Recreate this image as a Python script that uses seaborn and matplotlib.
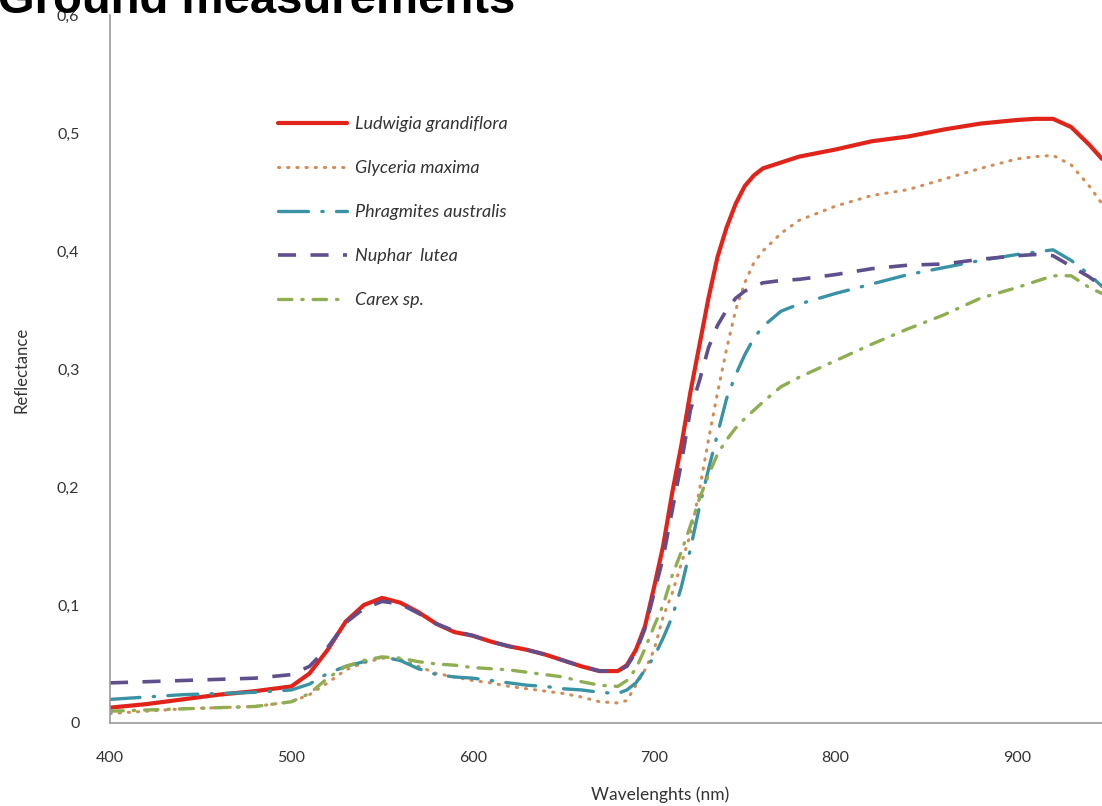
import matplotlib
matplotlib.use("Agg")
import matplotlib.pyplot as plt
import seaborn as sns
import pandas as pd
from matplotlib.ticker import FuncFormatter, MultipleLocator

wavelength = [400, 420, 440, 460, 480, 500, 510, 520, 530, 540, 550, 560, 570, 580, 590,
              600, 610, 620, 630, 640, 650, 660, 670, 680, 685, 690, 695, 700, 705, 710,
              715, 720, 725, 730, 735, 740, 745, 750, 755, 760, 770, 780, 800, 820, 840,
              860, 880, 900, 910, 920, 930, 940, 947]

ludwigia = [.013, .016, .020, .024, .027, .031, .042, .062, .086, .100, .106, .102, .094, .084, .077,
            .074, .069, .065, .062, .058, .053, .048, .044, .044, .049, .062, .082, .115, .150, .195,
            .235, .280, .320, .360, .395, .420, .440, .455, .464, .470, .475, .480, .486, .493, .497,
            .503, .508, .511, .512, .512, .505, .490, .478]

glyceria = [.008, .010, .012, .013, .014, .018, .024, .034, .045, .051, .055, .054, .048, .042, .039,
            .036, .034, .031, .029, .027, .025, .022, .018, .017, .019, .032, .045, .062, .090, .110,
            .135, .160, .197, .240, .280, .317, .350, .373, .390, .400, .415, .426, .438, .447, .452,
            .461, .470, .478, .480, .481, .473, .455, .440]

phragmites = [.020, .022, .024, .025, .026, .028, .033, .042, .048, .052, .056, .053, .046, .041, .039,
              .038, .036, .034, .032, .031, .029, .028, .026, .025, .028, .034, .045, .056, .072, .090,
              .115, .147, .183, .215, .245, .275, .295, .312, .326, .336, .349, .355, .364, .372, .380,
              .386, .392, .397, .399, .401, .392, .380, .370]

nuphar = [.034, .035, .036, .037, .038, .041, .048, .064, .085, .097, .103, .101, .093, .084, .078,
          .074, .069, .065, .062, .058, .053, .048, .044, .044, .048, .060, .080, .110, .140, .180,
          .220, .265, .290, .318, .337, .350, .360, .366, .370, .373, .375, .376, .380, .385, .388,
          .389, .393, .396, .397, .396, .387, .378, .370]

carex = [.010, .011, .012, .013, .014, .018, .025, .038, .048, .053, .056, .055, .052, .050, .049,
         .047, .046, .045, .043, .041, .039, .035, .032, .031, .036, .046, .063, .082, .100, .125,
         .145, .167, .190, .210, .228, .240, .250, .258, .265, .272, .285, .293, .307, .321, .334,
         .346, .360, .369, .374, .379, .379, .369, .364]

species = ["Ludwigia grandiflora", "Glyceria maxima", "Phragmites australis",
           "Nuphar  lutea", "Carex sp."]
series = [ludwigia, glyceria, phragmites, nuphar, carex]
colors = ["#e2231a", "#d38c56", "#3a93a5", "#5f4f8c", "#8fae52"]
styles = ["-", (0, (0.4, 2.6)), (0, (9, 4, 0.4, 4)), (0, (5, 4)), (0, (4, 3, 0.4, 3))]
widths = [3.0, 2.2, 2.4, 2.6, 2.4]
caps = ["round", "round", "round", "butt", "round"]

sns.set_style("white")
plt.rcParams["font.family"] = ["Lato", "DejaVu Sans"]

fig = plt.figure(figsize=(11.02, 8.06), dpi=100)
ax = fig.add_axes([110 / 1102, 83 / 806, 1 - 110 / 1102, (723 - 15) / 806])

for name, vals, c, ls, lw, cap in zip(species, series, colors, styles, widths, caps):
    df = pd.DataFrame({"wl": wavelength, "r": vals})
    sns.lineplot(data=df, x="wl", y="r", color=c, linestyle=ls, linewidth=lw,
                 ax=ax, label=name, dash_capstyle=cap, solid_capstyle="round")

ax.set_xlim(400, 947)
ax.set_ylim(0, 0.6)
ax.xaxis.set_major_locator(MultipleLocator(100))
ax.yaxis.set_major_locator(MultipleLocator(0.1))
ax.yaxis.set_major_formatter(FuncFormatter(lambda v, p: "0" if abs(v) < 1e-9 else f"{v:.1f}".replace(".", ",")))
ax.tick_params(axis="both", length=0, labelsize=11.5, colors="#333333")
ax.tick_params(axis="x", pad=20)
ax.tick_params(axis="y", pad=22)
for s in ["top", "right"]:
    ax.spines[s].set_visible(False)
for s in ["left", "bottom"]:
    ax.spines[s].set_color("#9a9a9a")
    ax.spines[s].set_linewidth(1.2)

ax.set_xlabel("")
ax.set_ylabel("")
fig.text(660 / 1102, 1 - 795 / 806, "Wavelenghts (nm)", ha="center", va="center",
         fontsize=12.5, color="#333333")
fig.text(22 / 1102, 1 - 370 / 806, "Reflectance", ha="center", va="center",
         rotation=90, fontsize=12, color="#333333")

fig.text(-0.002, 1 - 13 / 806, "Ground measurements", ha="left", va="baseline",
         fontsize=34, fontweight="bold", color="black", family=["Liberation Sans", "DejaVu Sans"])

leg = ax.legend(loc="upper left", bbox_to_anchor=(152 / 992, 1 - 85 / 708), frameon=False,
                handlelength=3.8, handletextpad=0.45, labelspacing=1.55,
                prop={"style": "italic", "size": 13})
for t in leg.get_texts():
    t.set_color("#333333")

fig.savefig("out.png", dpi=100)
